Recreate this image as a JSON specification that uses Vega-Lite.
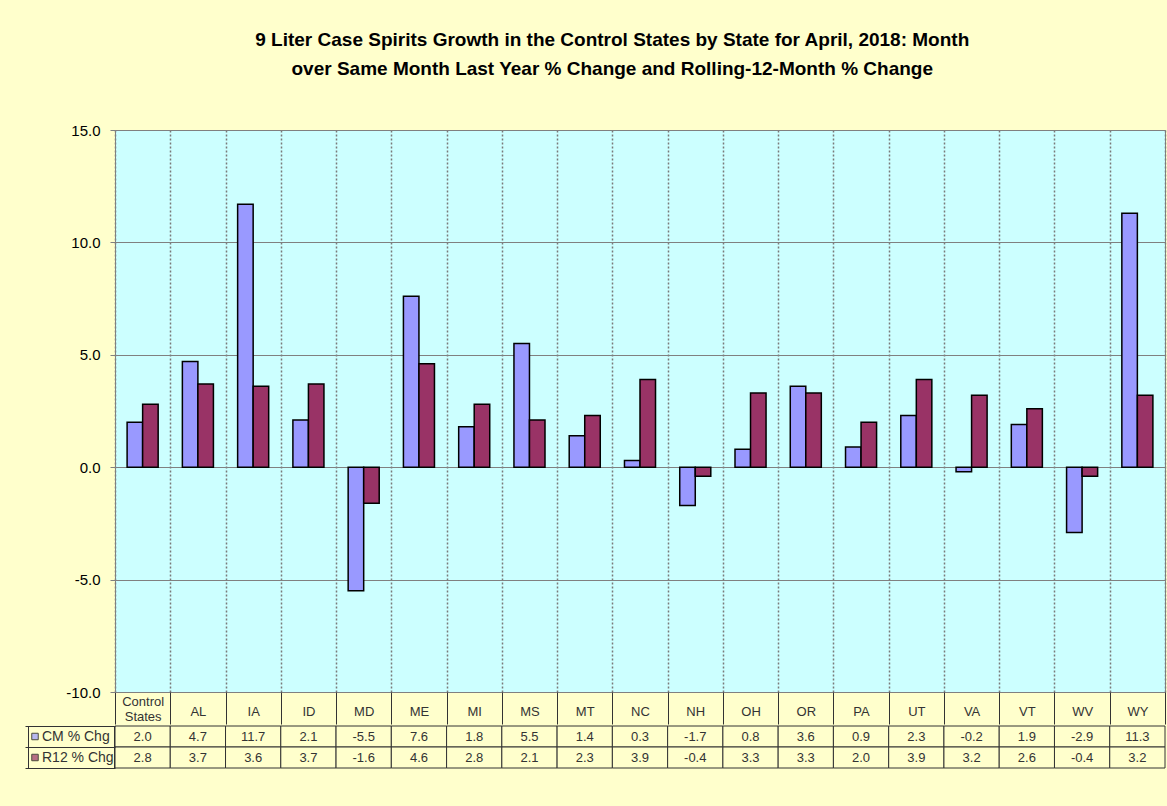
{
  "$schema": "https://vega.github.io/schema/vega-lite/v6.json",
  "background": "#FFFFCC",
  "padding": {"left": 24, "top": 30, "right": 3, "bottom": 40},
  "title": {
    "text": ["9 Liter Case Spirits Growth in the Control States by State for April, 2018: Month", "over Same Month Last Year % Change and Rolling-12-Month % Change"],
    "font": "Liberation Sans",
    "fontSize": 19,
    "fontWeight": "bold",
    "lineHeight": 29,
    "color": "#000000",
    "anchor": "middle",
    "baseline": "top",
    "offset": 44,
    "dx": 17
  },
  "config": {
    "font": "Liberation Sans",
    "view": {"stroke": null},
    "locale": {"number": {"decimal": ".", "thousands": ",", "grouping": [3], "currency": ["$", ""], "minus": "-"}}
  },
  "datasets": {
    "d": [
      {"state": "Control States", "series": "CM % Chg", "value": 2.0},
      {"state": "AL", "series": "CM % Chg", "value": 4.7},
      {"state": "IA", "series": "CM % Chg", "value": 11.7},
      {"state": "ID", "series": "CM % Chg", "value": 2.1},
      {"state": "MD", "series": "CM % Chg", "value": -5.5},
      {"state": "ME", "series": "CM % Chg", "value": 7.6},
      {"state": "MI", "series": "CM % Chg", "value": 1.8},
      {"state": "MS", "series": "CM % Chg", "value": 5.5},
      {"state": "MT", "series": "CM % Chg", "value": 1.4},
      {"state": "NC", "series": "CM % Chg", "value": 0.3},
      {"state": "NH", "series": "CM % Chg", "value": -1.7},
      {"state": "OH", "series": "CM % Chg", "value": 0.8},
      {"state": "OR", "series": "CM % Chg", "value": 3.6},
      {"state": "PA", "series": "CM % Chg", "value": 0.9},
      {"state": "UT", "series": "CM % Chg", "value": 2.3},
      {"state": "VA", "series": "CM % Chg", "value": -0.2},
      {"state": "VT", "series": "CM % Chg", "value": 1.9},
      {"state": "WV", "series": "CM % Chg", "value": -2.9},
      {"state": "WY", "series": "CM % Chg", "value": 11.3},
      {"state": "Control States", "series": "R12 % Chg", "value": 2.8},
      {"state": "AL", "series": "R12 % Chg", "value": 3.7},
      {"state": "IA", "series": "R12 % Chg", "value": 3.6},
      {"state": "ID", "series": "R12 % Chg", "value": 3.7},
      {"state": "MD", "series": "R12 % Chg", "value": -1.6},
      {"state": "ME", "series": "R12 % Chg", "value": 4.6},
      {"state": "MI", "series": "R12 % Chg", "value": 2.8},
      {"state": "MS", "series": "R12 % Chg", "value": 2.1},
      {"state": "MT", "series": "R12 % Chg", "value": 2.3},
      {"state": "NC", "series": "R12 % Chg", "value": 3.9},
      {"state": "NH", "series": "R12 % Chg", "value": -0.4},
      {"state": "OH", "series": "R12 % Chg", "value": 3.3},
      {"state": "OR", "series": "R12 % Chg", "value": 3.3},
      {"state": "PA", "series": "R12 % Chg", "value": 2.0},
      {"state": "UT", "series": "R12 % Chg", "value": 3.9},
      {"state": "VA", "series": "R12 % Chg", "value": 3.2},
      {"state": "VT", "series": "R12 % Chg", "value": 2.6},
      {"state": "WV", "series": "R12 % Chg", "value": -0.4},
      {"state": "WY", "series": "R12 % Chg", "value": 3.2}
    ]
  },
  "spacing": 0,
  "resolve": {"legend": {"color": "independent"}},
  "vconcat": [
    {
      "width": 1050,
      "height": 562,
      "data": {"name": "d"},
      "view": {"fill": "#CCFFFF", "stroke": "#808080", "strokeWidth": 1},
      "mark": {"type": "bar", "stroke": "#000000", "strokeWidth": 1.5},
      "encoding": {
        "x": {
          "field": "state", "type": "nominal",
          "sort": ["Control States", "AL", "IA", "ID", "MD", "ME", "MI", "MS", "MT", "NC", "NH", "OH", "OR", "PA", "UT", "VA", "VT", "WV", "WY"],
          "scale": {"paddingInner": 0, "paddingOuter": 0},
          "axis": {
            "title": null,
            "orient": "bottom",
            "tickBand": "extent",
            "tickSize": 32,
            "tickColor": "#333333",
            "tickWidth": 1,
            "domain": false,
            "labelPadding": {"condition": {"test": "datum.label == 'Control States'", "value": -23}, "value": -13},
            "labelBaseline": "middle",
            "labelAngle": 0,
            "labelAlign": "center",
            "labelFontSize": 13,
            "labelColor": "#333333",
            "labelLineHeight": 15,
            "labelExpr": "datum.label == 'Control States' ? ['Control', 'States'] : datum.label",
            "grid": true,
            "gridDash": [2, 2],
            "gridColor": "#7A7A7A",
            "gridWidth": 1.5,
            "minExtent": 32,
            "maxExtent": 32
          }
        },
        "xOffset": {
          "field": "series", "type": "nominal",
          "sort": ["CM % Chg", "R12 % Chg"],
          "scale": {"paddingInner": 0, "paddingOuter": 0.78}
        },
        "y": {
          "field": "value", "type": "quantitative",
          "scale": {"domain": [-10, 15], "nice": false, "zero": false},
          "axis": {
            "title": null,
            "values": [-10, -5, 0, 5, 10, 15],
            "format": ".1f",
            "labelFontSize": 15,
            "labelColor": "#000000",
            "labelPadding": 10,
            "tickSize": 5,
            "tickColor": "#808080",
            "domainColor": "#808080",
            "gridColor": "#808080",
            "gridOpacity": 1
          }
        },
        "color": {
          "field": "series", "type": "nominal",
          "scale": {"domain": ["CM % Chg", "R12 % Chg"], "range": ["#9999FF", "#993366"]},
          "legend": null
        }
      }
    },
    {
      "width": 1050,
      "height": 42,
      "data": {"name": "d"},
      "view": {"stroke": null},
      "encoding": {
        "x": {
          "field": "state", "type": "nominal",
          "sort": ["Control States", "AL", "IA", "ID", "MD", "ME", "MI", "MS", "MT", "NC", "NH", "OH", "OR", "PA", "UT", "VA", "VT", "WV", "WY"],
          "scale": {"paddingInner": 0, "paddingOuter": 0},
          "axis": null
        },
        "y": {
          "field": "series", "type": "nominal",
          "sort": ["CM % Chg", "R12 % Chg"],
          "scale": {"paddingInner": 0, "paddingOuter": 0},
          "axis": {
            "title": null,
            "labels": false,
            "domain": false,
            "ticks": true,
            "tickBand": "extent",
            "tickSize": 90,
            "tickColor": "#333333",
            "tickWidth": 1
          }
        }
      },
      "layer": [
        {
          "mark": {"type": "rect", "fill": "#FFFFCC", "stroke": "#333333", "strokeWidth": 1}
        },
        {
          "mark": {"type": "text", "fontSize": 13, "color": "#333333"},
          "encoding": {"text": {"field": "value", "type": "quantitative", "format": ".1f"}}
        },
        {
          "mark": {"type": "square", "size": 0, "filled": true},
          "encoding": {
            "color": {
              "field": "series", "type": "nominal",
              "scale": {"domain": ["CM % Chg", "R12 % Chg"], "range": ["#9999FF", "#993366"]},
              "legend": {
                "orient": "left",
                "offset": -90,
                "title": null,
                "padding": 0,
                "symbolType": "square",
                "symbolSize": 42,
                "symbolStrokeColor": "#000000",
                "symbolStrokeWidth": 1,
                "symbolOffset": 0,
                "labelOffset": 0,
                "labelFontSize": 14,
                "labelColor": "#333333",
                "clipHeight": 21,
                "rowPadding": 0,
                "strokeColor": "#333333"
              }
            }
          }
        }
      ]
    }
  ]
}
